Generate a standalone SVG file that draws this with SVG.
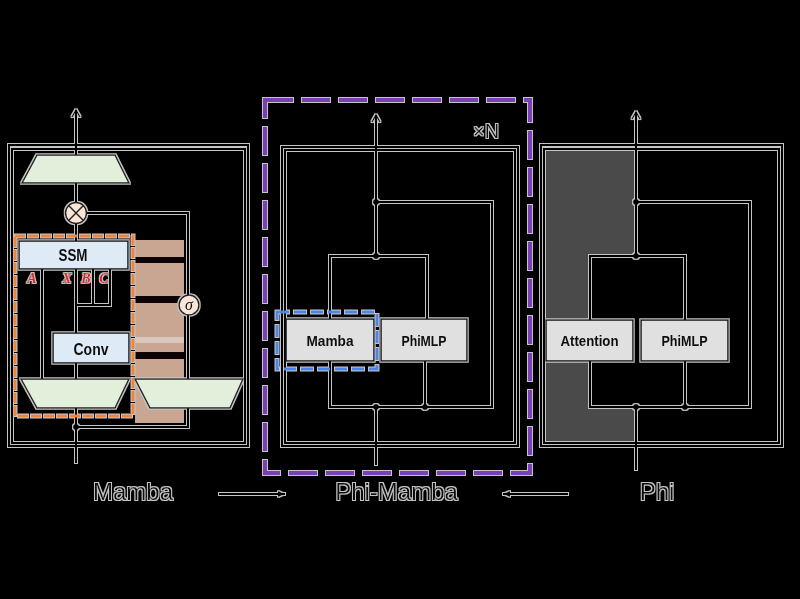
<svg xmlns="http://www.w3.org/2000/svg" width="800" height="599" viewBox="0 0 800 599">
<defs>
<filter id="halo" filterUnits="userSpaceOnUse" x="0" y="0" width="800" height="599">
<feMorphology in="SourceAlpha" operator="dilate" radius="1" result="d"/>
<feFlood flood-color="#c4c4c4" result="f"/>
<feComposite in="f" in2="d" operator="in" result="h"/>
<feMerge><feMergeNode in="h"/><feMergeNode in="SourceGraphic"/></feMerge>
</filter>
<marker id="head" viewBox="0 0 10 10" refX="8" refY="5" markerWidth="10" markerHeight="10" markerUnits="userSpaceOnUse" orient="auto">
<path d="M1,1 L8,5 L1,9" fill="none" stroke="#000" stroke-width="1.5"/>
</marker>
<marker id="solid" viewBox="0 0 10 10" refX="9" refY="5" markerWidth="8" markerHeight="8" markerUnits="userSpaceOnUse" orient="auto">
<path d="M0,1 L9,5 L0,9 Z" fill="#000"/>
</marker>
<style>
.ln{fill:none;stroke:#000;stroke-width:2}
.frame{fill:none;stroke:#000;stroke-width:2}
.box{stroke:#111;stroke-width:1.5}
.blue{fill:#deebf7}
.grey{fill:#e0e0e0}
.trap{fill:#e2efda;stroke:#222;stroke-width:1.5}
.op{fill:#fbe5d6;stroke:#222;stroke-width:1.5}
.dot{fill:#000}
.t{font-family:"Liberation Sans",Arial,sans-serif;font-weight:bold;fill:#111;text-anchor:middle}
.lbl{font-family:"Liberation Sans",Arial,sans-serif;font-size:24px;fill:#111;text-anchor:middle}
.abc{font-family:"Liberation Serif","Times New Roman",serif;font-weight:bold;font-style:italic;font-size:14px;fill:#e0201a;text-anchor:middle}
</style>
</defs>
<rect x="0" y="0" width="800" height="599" fill="#000"/>

<g id="backgrounds">
<rect x="135" y="240" width="49" height="183" fill="#c9a691"/>
<rect x="135" y="257" width="49" height="6" fill="#0c0404"/>
<rect x="135" y="296" width="49" height="7" fill="#0c0404"/>
<rect x="135" y="337" width="49" height="6" fill="#d8c6bc"/>
<rect x="135" y="352" width="49" height="7" fill="#0c0404"/>
<polygon points="544,149 635,149 635,256 590,256 590,407 635,407 635,443 544,443" fill="#4a4a4a"/>
</g>

<g filter="url(#halo)">
<g id="mamba-frame">
<rect class="frame" x="9" y="145" width="239" height="301"/>
<rect class="frame" x="12" y="149" width="233" height="294"/>
</g>
<g id="phimamba-frame">
<rect class="frame" x="282" y="147" width="236" height="299"/>
<rect class="frame" x="285" y="150" width="230" height="293"/>
</g>
<g id="phi-frame">
<rect class="frame" x="541" y="145" width="241" height="301"/>
<rect class="frame" x="544" y="149" width="235" height="294"/>
</g>

<g id="connectors">
<path class="ln" d="M76,463 V408"/>
<path class="ln" d="M76,379 V363"/>
<path class="ln" d="M76,333 V269"/>
<path class="ln" d="M42,379 V269"/>
<path class="ln" d="M93,269 V305 M110,269 V305 H76"/>
<path class="ln" d="M76,241 V224"/>
<path class="ln" d="M76,202 V183"/>
<path class="ln" d="M76,155 V110" marker-end="url(#head)"/>
<path class="ln" d="M76,427 H188 V408"/>
<path class="ln" d="M188,379 V315"/>
<path class="ln" d="M188,295 V213 H86"/>

<path class="ln" d="M376,465 V407"/>
<path class="ln" d="M330,361 V407 H492 V202 H376"/>
<path class="ln" d="M425,361 V407"/>
<path class="ln" d="M330,319 V256 H427 V319"/>
<path class="ln" d="M376,256 V115" marker-end="url(#head)"/>

<path class="ln" d="M636,470 V407"/>
<path class="ln" d="M590,361 V407 H750 V202 H636"/>
<path class="ln" d="M685,361 V407"/>
<path class="ln" d="M590,320 V256 H685 V320"/>
<path class="ln" d="M636,256 V112" marker-end="url(#head)"/>

<circle class="dot" cx="76" cy="427" r="3"/>
<circle class="dot" cx="376" cy="202" r="3"/>
<circle class="dot" cx="376" cy="256" r="3"/>
<circle class="dot" cx="376" cy="407" r="3"/>
<circle class="dot" cx="425" cy="407" r="3"/>
<circle class="dot" cx="636" cy="202" r="3"/>
<circle class="dot" cx="636" cy="256" r="3"/>
<circle class="dot" cx="636" cy="407" r="3"/>
<circle class="dot" cx="685" cy="407" r="3"/>

<path class="ln" d="M219,494 H285" marker-end="url(#solid)"/>
<path class="ln" d="M568,494 H503" marker-end="url(#solid)"/>
</g>

<g id="out-proj"><polygon class="trap" points="37,155 115,155 129,183 22,183"/></g>
<g id="mul"><circle class="op" cx="76" cy="213" r="10.5"/><path d="M68.6,205.6 L83.4,220.4 M83.4,205.6 L68.6,220.4" stroke="#222" stroke-width="1.4"/></g>
<g id="ssm"><rect class="box blue" x="19" y="241" width="109" height="28"/><text class="t" x="73" y="261" font-size="16" textLength="29" lengthAdjust="spacingAndGlyphs">SSM</text></g>
<g id="abc">
<text class="abc" x="32" y="283">A</text>
<text class="abc" x="67" y="283">X</text>
<text class="abc" x="86" y="283">B</text>
<text class="abc" x="104" y="283">C</text>
</g>
<g id="conv"><rect class="box blue" x="53" y="333" width="76" height="30"/><text class="t" x="91" y="355" font-size="17" textLength="35" lengthAdjust="spacingAndGlyphs">Conv</text></g>
<g id="in-proj-left"><polygon class="trap" points="21,379 129,379 115,408 37,408"/></g>
<g id="in-proj-right"><polygon class="trap" points="135,379 243,379 230,408 150,408"/></g>
<g id="sigma"><circle class="op" cx="189" cy="305" r="10"/><text x="189" y="310" font-family="Liberation Serif, serif" font-style="italic" font-size="16" fill="#111" text-anchor="middle">σ</text></g>

<g id="pm-mamba"><rect class="box grey" x="286" y="319" width="88" height="42"/><text class="t" x="330" y="346" font-size="15" textLength="47" lengthAdjust="spacingAndGlyphs">Mamba</text></g>
<g id="pm-phimlp"><rect class="box grey" x="381" y="319" width="86" height="42"/><text class="t" x="424" y="346" font-size="15" textLength="45" lengthAdjust="spacingAndGlyphs">PhiMLP</text></g>
<g id="phi-attention"><rect class="box grey" x="546" y="320" width="87" height="41"/><text class="t" x="589.5" y="346" font-size="15" textLength="58" lengthAdjust="spacingAndGlyphs">Attention</text></g>
<g id="phi-phimlp"><rect class="box grey" x="641" y="320" width="87" height="41"/><text class="t" x="684.5" y="346" font-size="15" textLength="46" lengthAdjust="spacingAndGlyphs">PhiMLP</text></g>

<g id="orange-box"><rect x="15" y="236" width="118" height="180" fill="none" stroke="#ef8533" stroke-width="3" stroke-dasharray="10 3"/></g>
<g id="blue-box"><rect x="277" y="312" width="100" height="57" fill="none" stroke="#4a86e8" stroke-width="3" stroke-dasharray="12 5"/></g>
<g id="purple-box"><rect x="265" y="100" width="265" height="373" fill="none" stroke="#7a3fb5" stroke-width="4" stroke-dasharray="28 9"/></g>

<g id="labels">
<text x="473" y="138" font-family="Liberation Sans, Arial, sans-serif" font-size="20" fill="#111">×N</text>
<text class="lbl" x="133" y="500">Mamba</text>
<text class="lbl" x="396.5" y="500">Phi-Mamba</text>
<text class="lbl" x="657" y="500">Phi</text>
</g>
</g>
</svg>
